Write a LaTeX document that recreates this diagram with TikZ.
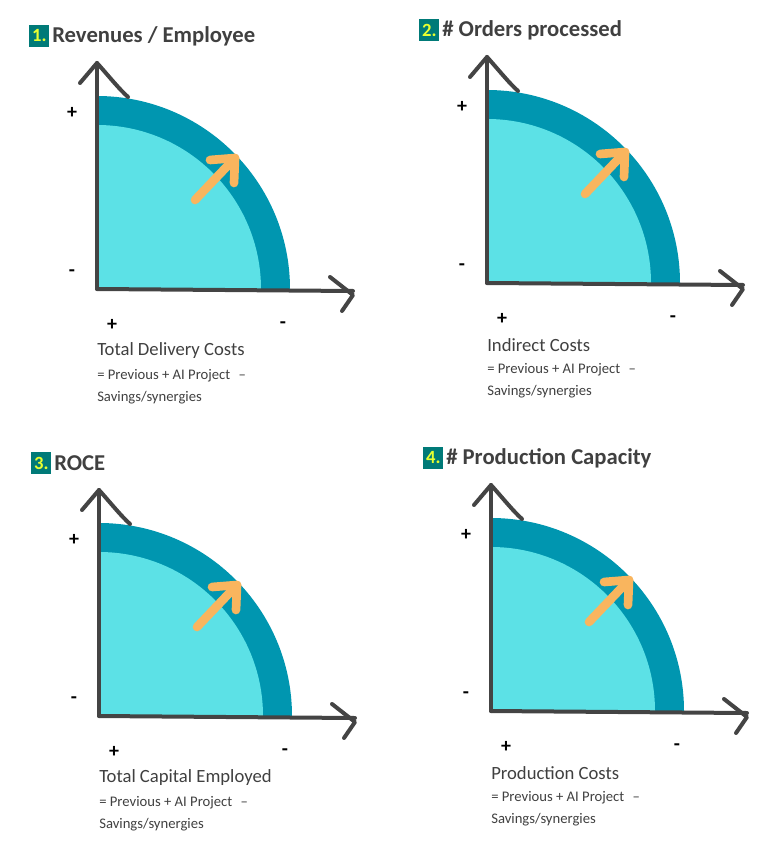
\documentclass[tikz,border=0pt]{standalone}
\usepackage{fontspec}
\setmainfont{Carlito}
\definecolor{darkteal}{HTML}{0096B0}
\definecolor{lightcyan}{HTML}{5CE1E6}
\definecolor{orangearrow}{HTML}{F9B55E}
\definecolor{axisgray}{HTML}{444444}
\definecolor{boxteal}{HTML}{007A78}
\definecolor{numyellow}{HTML}{E8FF30}
\definecolor{txtgray}{HTML}{404040}
\tikzset{
  axisline/.style={draw=axisgray,line width=3pt,line cap=round,line join=round},
  growarrow/.style={draw=orangearrow,line width=6.5pt,line cap=round,line join=round},
  signlabel/.style={font=\fontsize{15}{15}\selectfont\bfseries,text=black,inner sep=0pt},
  titletext/.style={font=\fontsize{17}{17}\selectfont\bfseries,text=txtgray,anchor=west,inner sep=0pt},
  numbox/.style={fill=boxteal,text=numyellow,font=\fontsize{14}{14}\selectfont\bfseries,inner sep=0pt,minimum width=15pt,minimum height=17pt,anchor=west},
  labmain/.style={font=\fontsize{14}{14}\selectfont,text=txtgray,anchor=west,inner sep=0pt},
  labsub/.style={font=\fontsize{11}{11}\selectfont,text=txtgray,anchor=west,inner sep=0pt}
}
\newcommand{\mypanel}[5]{%
\begin{scope}[shift={(#1,#2)}]
  \fill[darkteal] (0,0) -- (193,0) arc[start angle=0,end angle=-90,radius=193] -- cycle;
  \fill[lightcyan] (0,0) -- (164,0) arc[start angle=0,end angle=-90,radius=164] -- cycle;
  \coordinate (#5o) at (0,0);
  \coordinate (#5t) at (0,-226);
  \coordinate (#5r) at (256,2);
  \draw[axisline] (#5o) -- (#5t);
  \draw[axisline] (-17,-206) -- (#5t) .. controls (10,-215) and (22,-200) .. (31,-192);
  \draw[axisline] (#5o) -- (#5r);
  \draw[axisline] (233,-12) -- (256,6) -- (245,22);
  \coordinate (#5a) at (98,-89);
  \coordinate (#5b) at (138,-131);
  \draw[growarrow] (#5a) -- (#5b);
  \draw[growarrow] (113,-129) -- (#5b) -- (137,-106);
  \node[signlabel] (#5p1) at (-25,-176) {+};
  \node[signlabel] (#5m1) at (-25,-16) {-};
  \node[signlabel] (#5p2) at (15,36) {+};
  \node[signlabel] (#5m2) at (186,36) {-};
  \node[numbox] (#5n) at (-68,-253) {#3};
  \node[titletext] (#5ti) at (-45,-253) {#4};
  \node[labmain] (#5l1) at (0,62) {#5};
  \node[labsub] (#5l2) at (0,87) {= Previous + AI Project \,\,–};
  \node[labsub] (#5l3) at (0,109) {Savings/synergies};
\end{scope}}
\begin{document}
\begin{tikzpicture}[x=0.75pt,y=-0.75pt]
\useasboundingbox (0,0) rectangle (780,852);
\mypanel{97}{289}{1.}{Revenues / Employee}{Total Delivery Costs}
\mypanel{487}{283}{2.}{\# Orders processed}{Indirect Costs}
\mypanel{99}{716}{3.}{ROCE}{Total Capital Employed}
\mypanel{491}{711}{4.}{\# Production Capacity}{Production Costs}
\end{tikzpicture}
\end{document}
